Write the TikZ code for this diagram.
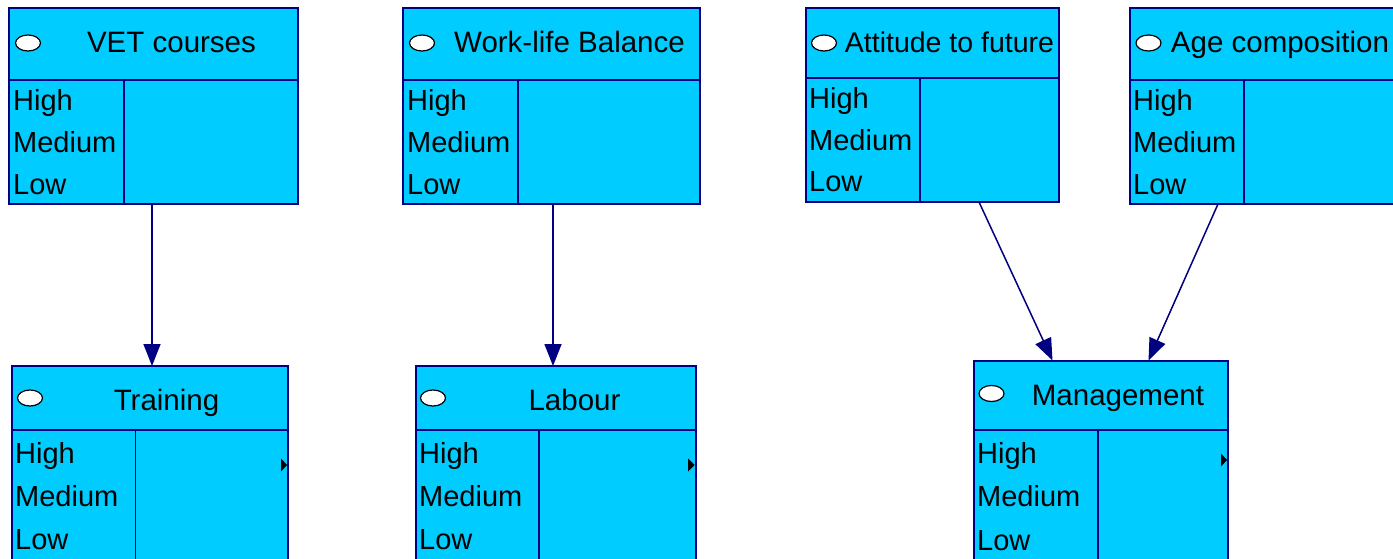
\documentclass[tikz,border=0pt]{standalone}
\usepackage{fontspec}
\setmainfont{Liberation Sans}
\usetikzlibrary{arrows.meta,shapes.geometric}

\definecolor{cptfill}{HTML}{00CCFF}
\definecolor{cptline}{HTML}{000080}

\tikzset{
  cpt/.style={draw=cptline, fill=cptfill, line width=2pt, rectangle,
              inner sep=0pt, outer sep=0pt},
  rule/.style={draw=cptline, line width=1.6pt},
  title/.style={anchor=base, inner sep=0pt, text=black,
                font=\fontsize{29.5}{35}\selectfont},
  state/.style={anchor=base west, inner sep=0pt, text=black,
                font=\fontsize{29}{35}\selectfont},
  bulb/.style={draw=black, fill=white, line width=1.2pt, ellipse,
               minimum width=25pt, minimum height=16pt, inner sep=0pt},
  link/.style={draw=cptline, line width=1.5pt,
               -{Triangle[length=22pt,width=17pt]}},
  beliefmark/.style={fill=black}
}

% box outline, header rule and state/value column rule
\newcommand\netbox[7]{%
  \node[cpt, anchor=north west, minimum width={#4-#2}, minimum height={#5-#3}] (#1) at (#2,#3) {};
  \draw[rule] (#2,#6) -- (#4,#6);
  \draw[rule] (#7,#6) -- (#7,#5);
}
% three state labels, left edge and baselines
\newcommand\netstates[5]{%
  \node[state] (#1-hi) at (#2,#3) {High};
  \node[state] (#1-md) at (#2,#4) {Medium};
  \node[state] (#1-lo) at (#2,#5) {Low};
}

\begin{document}
\begin{tikzpicture}[x=1pt, y=-1pt]
\useasboundingbox (0,0) rectangle (1393,559);
\clip (0,0) rectangle (1393,559);

% ---- upper row ----
\netbox{vet}{9}{8}{298}{204}{80}{124}
\node[bulb] (vet-b) at (28,43) {};
\node[title] (vet-t) at (171.5,53) {VET courses};
\netstates{vet}{13}{111}{153}{194}

\netbox{wlb}{403}{8}{700}{204}{80}{518}
\node[bulb] (wlb-b) at (422,43) {};
\node[title] (wlb-t) at (569.5,53) {Work-life Balance};
\netstates{wlb}{407}{111}{153}{194}

\netbox{att}{806}{8}{1059}{202}{78}{920}
\node[bulb] (att-b) at (824,43) {};
\node[title, font=\fontsize{28.5}{34}\selectfont] (att-t) at (949.5,53) {Attitude to future};
\netstates{att}{809}{109}{151}{192}

\netbox{age}{1130}{8}{1400}{204}{80}{1244}
\node[bulb] (age-b) at (1148.5,43) {};
\node[title] (age-t) at (1280,53) {Age composition};
\netstates{age}{1133}{111}{153}{194}

% ---- lower row ----
\netbox{trn}{12}{366}{288}{600}{430}{135.5}
\node[bulb] (trn-b) at (30,398) {};
\node[title] (trn-t) at (166.5,410) {Training};
\netstates{trn}{15}{463}{506.5}{549.5}
\fill[beliefmark] (287,465) -- (281,458.5) -- (281,471.5) -- cycle;

\netbox{lab}{416}{366}{695.5}{600}{430}{539}
\node[bulb] (lab-b) at (433,398) {};
\node[title] (lab-t) at (574.5,410) {Labour};
\netstates{lab}{419}{463}{506.5}{549.5}
\fill[beliefmark] (694.5,465) -- (688,458.5) -- (688,471.5) -- cycle;

\netbox{mgt}{974}{360.5}{1228}{600}{430}{1098}
\node[bulb] (mgt-b) at (991.5,393.5) {};
\node[title] (mgt-t) at (1118,405) {Management};
\netstates{mgt}{977}{463}{506.5}{550}
\fill[beliefmark] (1227,460) -- (1221,453.5) -- (1221,466.5) -- cycle;

% ---- links ----
\draw[link] ([xshift=-1.5pt]vet.south) -- ([xshift=2pt]trn.north);
\draw[link] ([xshift=1.5pt]wlb.south) -- ([xshift=-2.75pt]lab.north);
\draw[link] ([xshift=46.5pt]att.south) -- ([xshift=-48.5pt]mgt.north);
\draw[link] ([xshift=-47pt]age.south) -- ([xshift=47.5pt]mgt.north);
\end{tikzpicture}
\end{document}
